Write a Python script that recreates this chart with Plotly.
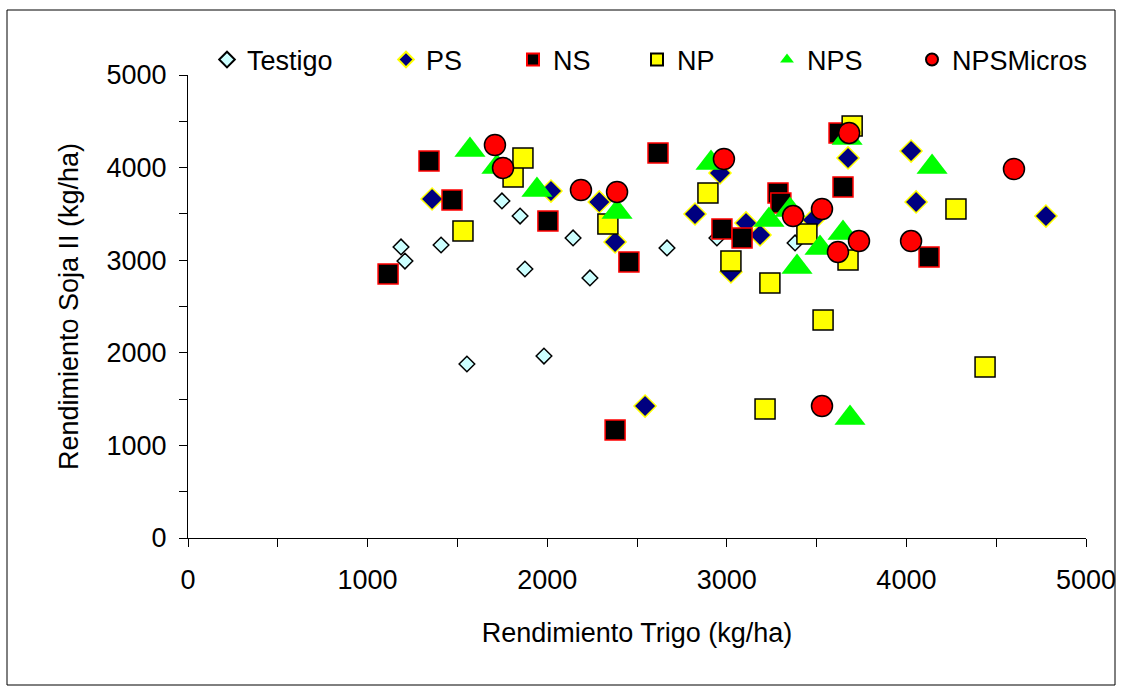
import plotly.graph_objects as go

# ---- data (kg/ha) ----
testigo_x = [1186, 1208, 1409, 1553, 1748, 1849, 1876, 1982, 2144, 2238, 2667, 2945, 3380]
testigo_y = [3143, 2991, 3164, 1879, 3640, 3477, 2905, 1965, 3240, 2808, 3132, 3240, 3186]

ps_x = [1359, 2021, 2290, 2378, 2545, 2823, 2962, 3023, 3107, 3185, 3480, 3675, 4026, 4054, 4777]
ps_y = [3661, 3747, 3629, 3197, 1425, 3499, 3942, 2873, 3402, 3272, 3434, 4104, 4179, 3629, 3477]

ns_x = [1114, 1342, 1470, 2004, 2378, 2455, 2617, 2973, 3085, 3285, 3301, 3625, 3647, 4126]
ns_y = [2851, 4071, 3650, 3423, 1166, 2981, 4158, 3337, 3240, 3726, 3618, 4374, 3791, 3035]

np_x = [1531, 1810, 1865, 2338, 2895, 3023, 3213, 3240, 3446, 3536, 3675, 3698, 4276, 4438]
np_y = [3315, 3899, 4104, 3391, 3726, 2991, 1393, 2754, 3283, 2354, 3002, 4449, 3553, 1847]

nps_x = [1570, 1720, 1943, 2389, 2912, 3235, 3352, 3391, 3519, 3647, 3670, 3686, 4143]
nps_y = [4190, 4007, 3758, 3520, 4050, 3434, 3542, 2927, 3132, 3294, 4320, 1296, 4007]

npsm_x = [1709, 1754, 2188, 2389, 2984, 3369, 3530, 3530, 3619, 3681, 3736, 4026, 4599]
npsm_y = [4244, 3996, 3758, 3737, 4093, 3477, 3553, 1425, 3089, 4374, 3207, 3207, 3985]

series_names = ["Testigo", "PS", "NS", "NP", "NPS", "NPSMicros"]

# ---- styles ----
styles = {
    "Testigo":   dict(symbol="diamond", size=12, color="#CCFFFF", line=dict(color="black", width=1.5)),
    "PS":        dict(symbol="diamond", size=17, color="#000080", line=dict(color="#FFFF00", width=1.5)),
    "NS":        dict(symbol="square", size=20, color="black", line=dict(color="#FF0000", width=1.5)),
    "NP":        dict(symbol="square", size=20, color="#FFFF00", line=dict(color="black", width=1.5)),
    "NPS":       dict(symbol="triangle-up", size=27, color="#00FF00", line=dict(color="#00FF00", width=0)),
    "NPSMicros": dict(symbol="circle", size=21, color="#FF0000", line=dict(color="black", width=1.5)),
}
data = {
    "Testigo": (testigo_x, testigo_y),
    "PS": (ps_x, ps_y),
    "NS": (ns_x, ns_y),
    "NP": (np_x, np_y),
    "NPS": (nps_x, nps_y),
    "NPSMicros": (npsm_x, npsm_y),
}

FONT = "Liberation Sans, Arial, sans-serif"

# plot area in pixels
W, H = 1122, 686
L, R, T, B = 188, 1086, 75, 538
pw, ph = R - L, B - T

def px_x(p):
    return (p - L) / pw

def px_y(p):
    return (B - p) / ph

legend_marker_px = {"Testigo": 227, "PS": 406, "NS": 533, "NP": 657, "NPS": 787, "NPSMicros": 932}

fig = go.Figure()
layout_legends = {}
for i, name in enumerate(series_names):
    lg = "legend" if i == 0 else f"legend{i+1}"
    x, y = data[name]
    fig.add_trace(go.Scatter(
        x=x, y=y, mode="markers", name=name, legend=lg,
        marker=styles[name], cliponaxis=False,
    ))
    layout_legends[lg] = dict(
        x=px_x(legend_marker_px[name] - 20), xanchor="left",
        y=px_y(60), yanchor="middle",
        orientation="h", bgcolor="rgba(0,0,0,0)", borderwidth=0,
        font=dict(family=FONT, size=27, color="black"),
        itemsizing="constant", tracegroupgap=0,
    )

axis_common = dict(
    range=[0, 5000], dtick=1000, tick0=0,
    showgrid=False, zeroline=False,
    showline=True, linecolor="black", linewidth=1,
    ticks="outside", ticklen=8, tickwidth=1, tickcolor="black",
    minor=dict(dtick=500, ticks="outside", ticklen=8, tickwidth=1, tickcolor="black", showgrid=False),
    tickfont=dict(family=FONT, size=27, color="black"),
    fixedrange=True, automargin=False,
)

fig.update_layout(
    width=W, height=H,
    margin=dict(l=L, r=W - R, t=T, b=H - B, pad=0, autoexpand=False),
    paper_bgcolor="white", plot_bgcolor="white",
    xaxis=dict(**axis_common, ticklabelstandoff=10,
               title=dict(text="Rendimiento Trigo (kg/ha)", standoff=28,
                          font=dict(family=FONT, size=27, color="black"))),
    yaxis=dict(**axis_common, ticklabelstandoff=7,
               title=dict(text="Rendimiento Soja II (kg/ha)", standoff=20,
                          font=dict(family=FONT, size=27, color="black"))),
    showlegend=True,
    **layout_legends,
    shapes=[dict(type="rect", xref="paper", yref="paper",
                 x0=px_x(7), x1=px_x(1115), y0=px_y(685), y1=px_y(10),
                 line=dict(color="black", width=1), fillcolor="rgba(0,0,0,0)", layer="below")],
)

fig.write_html("out.html", config={"displayModeBar": False},
               post_script="document.body.style.margin='0';document.body.style.overflow='hidden';")
